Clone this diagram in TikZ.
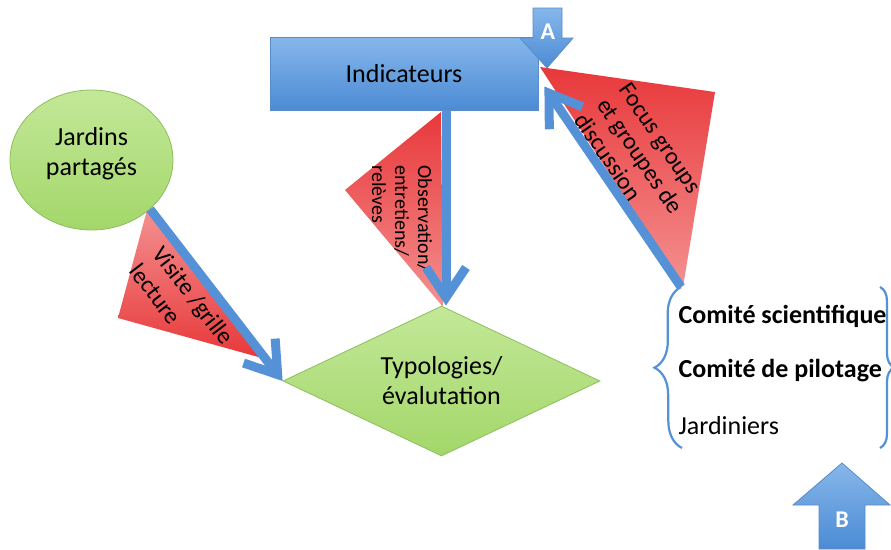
\documentclass[tikz,border=0pt]{standalone}
\usepackage{fontspec}
\setmainfont{Carlito}
\usetikzlibrary{shapes.geometric}
\usetikzlibrary{arrows.meta}
\usetikzlibrary{decorations.pathreplacing}

\definecolor{flowblue}{HTML}{5591D6}
\definecolor{boxtop}{HTML}{86B7EA}
\definecolor{boxbot}{HTML}{4C8BD5}
\definecolor{boxline}{HTML}{5A8CC8}
\definecolor{greentop}{HTML}{C3E898}
\definecolor{greenbot}{HTML}{A3D76A}
\definecolor{greenline}{HTML}{8DBE5C}
\definecolor{redtop}{HTML}{E8383A}
\definecolor{redbot}{HTML}{F49090}

\begin{document}
\begin{tikzpicture}[x=1pt, y=-1pt,
                    every node/.style={font=\fontsize{26}{30}\selectfont},
                    bluebox/.style={draw=boxline, top color=boxtop, bottom color=boxbot, line width=0.8pt},
                    greenshape/.style={draw=greenline, top color=greentop, bottom color=greenbot, line width=0.8pt, inner sep=0pt},
                    flow/.style={draw=flowblue, line width=9pt, -{Straight Barb[length=30pt,width=40pt]}},
                    redtri/.style={top color=redtop, bottom color=redbot},
                    lbl/.style={font=\fontsize{24}{27}\selectfont, align=left, inner sep=0pt},
                    brace/.style={draw=flowblue, line width=2.2pt, decorate},
                    letter/.style={text=white, font=\fontsize{24}{28}\selectfont\bfseries}]

\useasboundingbox (0,0) rectangle (891,549);

% red wedges behind the arrows
\path[top color=redbot, bottom color=redtop] (147,210) -- (118,318) -- (262,358) -- cycle;
\path[redtri] (441,112) -- (345,190) -- (443,307) -- cycle;
\path[redtri] (540,67) -- (715,92) -- (683,287) -- cycle;

% main shapes
\node[bluebox, minimum width=268pt, minimum height=73pt] (ind) at (404,73.5) {Indicateurs};
\node[greenshape, ellipse, minimum width=163pt, minimum height=140pt, align=center, text depth=17pt] (jardins) at (91.5,160) {Jardins\\partagés};
\node[greenshape, diamond, aspect=2.1, minimum width=317pt, minimum height=150pt, align=center] (typo) at (441.5,381) {Typologies/\\évalutation};

% wedge labels
\node[lbl, rotate=-52.5, font=\fontsize{24}{29}\selectfont] (lvisite) at (182,304) {Visite /grille\\lecture};
\node[lbl, rotate=-90, font=\fontsize{20}{23}\selectfont] (lobs) at (402,219) {Observation/\\entretiens/\\relèves};
\node[lbl, rotate=-55.7] (lfocus) at (640,156) {Focus groups\\et groupes de\\discussion};

% groups
\node[anchor=base west, font=\fontsize{26}{30}\selectfont\bfseries] (csci) at (675,323) {Comité scientifique};
\node[anchor=base west, font=\fontsize{26}{30}\selectfont\bfseries] (cpil) at (675,377) {Comité de pilotage};
\node[anchor=base west] (jard) at (675,434) {Jardiniers};
\coordinate (brtop) at (681,287);
\coordinate (brbot) at (682,448);
\draw[brace, decoration={brace, amplitude=27pt}] (brbot) -- (brtop);
\draw[brace, decoration={brace, amplitude=14pt}] (880,287) -- (880,448);

% arrows
\draw[flow] (jardins.-40) -- (typo.west);
\draw[flow] ([xshift=42pt]ind.south) -- ([xshift=4.5pt]typo.north);
\draw[flow] (brtop) -- ([xshift=6pt,yshift=-13pt]ind.east);

% markers A and B
\path[bluebox] (533,8) -- (562,8) -- (562,38) -- (573,38) -- (547,68) -- (520,38) -- (533,38) -- cycle;
\node[letter] (markA) at (548,32) {A};
\path[bluebox] (842,463) -- (890,505) -- (865,505) -- (865,549) -- (819,549) -- (819,505) -- (793,505) -- cycle;
\node[letter] (markB) at (842,520) {B};
\end{tikzpicture}
\end{document}
